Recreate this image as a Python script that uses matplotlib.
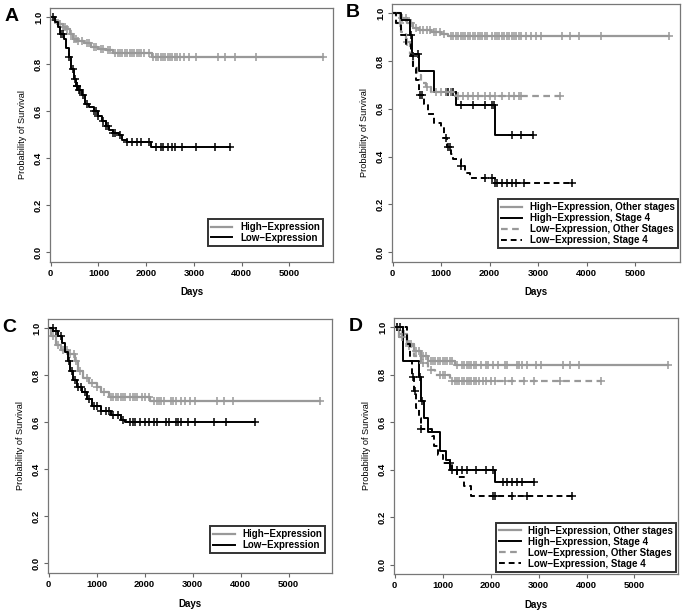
import numpy as np
import matplotlib
matplotlib.use("Agg")
import matplotlib.pyplot as plt

plt.rcParams['font.family'] = ['Liberation Sans', 'DejaVu Sans']

GRAY = "#999999"

# ---- panel A ----
a_high_t = [0, 60, 120, 180, 250, 320, 400, 470, 560, 700, 850, 1000, 1150, 1300, 2120]
a_high_s = [1.0, 0.99, 0.98, 0.97, 0.96, 0.95, 0.93, 0.91, 0.90, 0.89, 0.875, 0.865, 0.86, 0.85, 0.83]
a_high_c = [100, 200, 260, 300, 350, 420, 480, 520, 580, 650, 750, 800, 900, 950, 1050, 1100,
            1200, 1250, 1350, 1400, 1450, 1500, 1550, 1600, 1650, 1700, 1750, 1800, 1850, 1900,
            1950, 2050, 2150, 2200, 2250, 2300, 2350, 2400, 2450, 2500, 2550, 2600, 2650, 2700,
            2800, 2900, 3050, 3500, 3650, 3850, 4300, 5700]
a_low_t = [0, 80, 150, 200, 280, 330, 380, 430, 480, 520, 580, 650, 720, 800, 900, 1000, 1080,
           1150, 1220, 1300, 1420, 1500, 1600, 2100]
a_low_s = [1.0, 0.98, 0.96, 0.93, 0.91, 0.87, 0.83, 0.78, 0.74, 0.71, 0.69, 0.67, 0.63, 0.62,
           0.60, 0.58, 0.56, 0.54, 0.52, 0.51, 0.50, 0.48, 0.47, 0.45]
a_low_c = [40, 220, 250, 390, 470, 500, 540, 560, 600, 620, 680, 760, 900, 950, 1000, 1100, 1150,
           1200, 1300, 1350, 1450, 1600, 1700, 1800, 1900, 2050, 2200, 2300, 2350, 2450, 2550,
           2600, 2750, 3050, 3450, 3750]

# ---- panel B ----
b_ho_t = [0, 150, 300, 420, 550, 800, 1000, 1150]
b_ho_s = [1.0, 0.98, 0.96, 0.94, 0.93, 0.92, 0.915, 0.905]
b_ho_c = [200, 280, 380, 480, 560, 620, 700, 780, 850, 900, 980, 1050, 1200, 1250, 1300, 1350,
          1400, 1450, 1500, 1550, 1600, 1650, 1700, 1750, 1800, 1850, 1900, 1950, 2050, 2100,
          2150, 2200, 2250, 2300, 2350, 2400, 2450, 2500, 2550, 2600, 2650, 2750, 2850, 2950,
          3050, 3500, 3650, 3850, 4300, 5700]
b_h4_t = [0, 180, 350, 400, 550, 850, 1300, 2100]
b_h4_s = [1.0, 0.97, 0.91, 0.83, 0.76, 0.67, 0.615, 0.49]
b_h4_c = [380, 520, 1100, 1150, 1200, 1250, 1400, 1650, 1900, 2050, 2080, 2450, 2650, 2900]
b_lo_t = [0, 80, 180, 280, 350, 420, 500, 580, 680, 800, 1300]
b_lo_s = [1.0, 0.96, 0.92, 0.88, 0.83, 0.78, 0.74, 0.71, 0.69, 0.67, 0.655]
b_lo_c = [150, 300, 700, 900, 1000, 1100, 1200, 1350, 1450, 1550, 1650, 1750, 1900, 2000, 2100,
          2250, 2400, 2500, 2600, 2650, 3450]
b_l4_t = [0, 80, 180, 280, 380, 430, 480, 540, 650, 720, 850, 1000, 1050, 1130, 1200, 1250, 1400,
          1500, 1600, 2100]
b_l4_s = [1.0, 0.96, 0.91, 0.87, 0.82, 0.77, 0.72, 0.66, 0.62, 0.58, 0.54, 0.52, 0.48, 0.44,
          0.41, 0.39, 0.36, 0.33, 0.31, 0.29]
b_l4_c = [420, 560, 600, 1100, 1150, 1180, 1400, 1900, 2050, 2100, 2150, 2250, 2350, 2450, 2550,
          2700, 3700]

# ---- panel C ----
c_high_t = [0, 50, 150, 250, 400, 550, 620, 720, 850, 1000, 1100, 1250, 2120]
c_high_s = [1.0, 0.97, 0.93, 0.91, 0.89, 0.86, 0.82, 0.79, 0.77, 0.75, 0.73, 0.71, 0.69]
c_high_c = [100, 200, 300, 380, 450, 520, 560, 650, 800, 900, 1000, 1150, 1300, 1350, 1400, 1450,
            1500, 1550, 1600, 1700, 1750, 1800, 1850, 1950, 2000, 2100, 2200, 2250, 2300, 2350,
            2400, 2550, 2600, 2650, 2750, 2850, 2950, 3050, 3500, 3650, 3850, 5650]
c_low_t = [0, 100, 200, 280, 350, 400, 450, 500, 600, 700, 800, 900, 1100, 1300, 1500, 1600]
c_low_s = [1.0, 0.99, 0.97, 0.94, 0.90, 0.86, 0.82, 0.78, 0.75, 0.73, 0.70, 0.67, 0.65, 0.63,
           0.61, 0.60]
c_low_c = [80, 150, 250, 420, 480, 550, 620, 680, 750, 850, 950, 1000, 1100, 1200, 1250, 1350,
           1450, 1550, 1700, 1750, 1800, 1900, 2000, 2100, 2200, 2250, 2450, 2500, 2650, 2700,
           2750, 2900, 3050, 3450, 3700, 4300]

# ---- panel D ----
d_ho_t = [0, 100, 250, 400, 550, 700, 1250]
d_ho_s = [1.0, 0.97, 0.93, 0.90, 0.88, 0.86, 0.84]
d_ho_c = [60, 150, 200, 300, 350, 450, 500, 600, 650, 750, 800, 850, 900, 950, 1000, 1050, 1100,
          1150, 1200, 1300, 1400, 1450, 1500, 1550, 1600, 1650, 1700, 1800, 1900, 1950, 2050,
          2150, 2300, 2350, 2550, 2600, 2650, 2750, 2950, 3050, 3500, 3650, 3850, 5700]
d_h4_t = [0, 180, 500, 560, 620, 700, 950, 1080, 1150, 2100]
d_h4_s = [1.0, 0.86, 0.79, 0.69, 0.62, 0.56, 0.48, 0.44, 0.40, 0.35]
d_h4_c = [60, 120, 520, 580, 1200, 1300, 1400, 1500, 1700, 1900, 2050, 2250, 2350, 2450, 2550,
          2650, 2900]
d_lo_t = [0, 100, 250, 400, 550, 700, 850, 1150]
d_lo_s = [1.0, 0.96, 0.92, 0.88, 0.85, 0.82, 0.80, 0.775]
d_lo_c = [150, 300, 600, 750, 950, 1000, 1050, 1200, 1250, 1300, 1350, 1400, 1450, 1500, 1550,
          1600, 1650, 1700, 1750, 1850, 1900, 2000, 2100, 2300, 2450, 2700, 2900, 3450, 4300]
d_l4_t = [0, 250, 330, 360, 400, 450, 500, 550, 780, 830, 900, 1000, 1200, 1300, 1450, 1600]
d_l4_s = [1.0, 0.93, 0.86, 0.79, 0.73, 0.66, 0.62, 0.57, 0.54, 0.50, 0.46, 0.43, 0.40, 0.37,
          0.33, 0.29]
d_l4_c = [380, 420, 560, 1150, 2050, 2100, 2450, 2750, 3700]

x_ticks = [0, 1000, 2000, 3000, 4000, 5000]
y_ticks = [0.0, 0.2, 0.4, 0.6, 0.8, 1.0]
labels_two = ["High\u2212Expression", "Low\u2212Expression"]
labels_four = ["High\u2212Expression, Other stages", "High\u2212Expression, Stage 4",
               "Low\u2212Expression, Other Stages", "Low\u2212Expression, Stage 4"]


def km(ax, times, surv, cens, color, ls, label):
    lw = 1.6 if color == GRAY else 1.4
    t = list(times) + [max(max(times), max(cens))]
    s = list(surv) + [surv[-1]]
    ax.step(t, s, where="post", color=color, lw=lw, ls=ls, label=label)
    idx = np.searchsorted(times, cens, side="right") - 1
    cy = np.array(surv)[idx]
    ax.plot(cens, cy, ls="none", marker="+", ms=5.5, mew=1.1, color=color)


def style(ax, letter, bbox):
    ax.set_xlim(-15, 5910)
    ax.set_ylim(-0.04, 1.04)
    ax.set_xticks(x_ticks)
    ax.set_yticks(y_ticks)
    ax.set_xticklabels([str(v) for v in x_ticks], fontsize=6.8, fontweight="bold")
    ax.set_yticklabels(["%.1f" % v for v in y_ticks], fontsize=6.8, fontweight="bold",
                       rotation=90, va="center")
    ax.tick_params(length=3, width=0.8, color="#666666", pad=2)
    for sp in ax.spines.values():
        sp.set_color("#777777")
        sp.set_linewidth(0.9)
    ax.set_xlabel("Days", fontsize=7, fontweight="bold", labelpad=7)
    ax.set_ylabel("Probability of Survival", fontsize=6.6, labelpad=5)
    ax.text(-0.16, 1.0, letter, transform=ax.transAxes, fontsize=14, fontweight="bold",
            va="top", ha="left")
    leg = ax.legend(loc="lower right", bbox_to_anchor=bbox, fontsize=7, frameon=True,
                    fancybox=False, borderpad=0.3, labelspacing=0.1, handlelength=2.2,
                    handletextpad=0.8, borderaxespad=0)
    leg.get_frame().set_edgecolor("black")
    leg.get_frame().set_linewidth(1.4)
    for txt in leg.get_texts():
        txt.set_fontweight("bold")


fig = plt.figure(figsize=(6.85, 6.16), dpi=100)

axA = fig.add_axes([0.073, 0.575, 0.413, 0.412])
km(axA, a_high_t, a_high_s, a_high_c, GRAY, "-", labels_two[0])
km(axA, a_low_t, a_low_s, a_low_c, "black", "-", labels_two[1])
style(axA, "A", (0.965, 0.063))

axB = fig.add_axes([0.572, 0.575, 0.420, 0.419])
km(axB, b_ho_t, b_ho_s, b_ho_c, GRAY, "-", labels_four[0])
km(axB, b_h4_t, b_h4_s, b_h4_c, "black", "-", labels_four[1])
km(axB, b_lo_t, b_lo_s, b_lo_c, GRAY, (0, (3, 2)), labels_four[2])
km(axB, b_l4_t, b_l4_s, b_l4_c, "black", (0, (3, 2)), labels_four[3])
style(axB, "B", (0.993, 0.054))

axC = fig.add_axes([0.070, 0.070, 0.415, 0.412])
km(axC, c_high_t, c_high_s, c_high_c, GRAY, "-", labels_two[0])
km(axC, c_low_t, c_low_s, c_low_c, "black", "-", labels_two[1])
style(axC, "C", (0.975, 0.079))

axD = fig.add_axes([0.575, 0.068, 0.415, 0.416])
km(axD, d_ho_t, d_ho_s, d_ho_c, GRAY, "-", labels_four[0])
km(axD, d_h4_t, d_h4_s, d_h4_c, "black", "-", labels_four[1])
km(axD, d_lo_t, d_lo_s, d_lo_c, GRAY, (0, (3, 2)), labels_four[2])
km(axD, d_l4_t, d_l4_s, d_l4_c, "black", (0, (3, 2)), labels_four[3])
style(axD, "D", (0.993, 0.01))

fig.savefig("out.png", dpi=100)
